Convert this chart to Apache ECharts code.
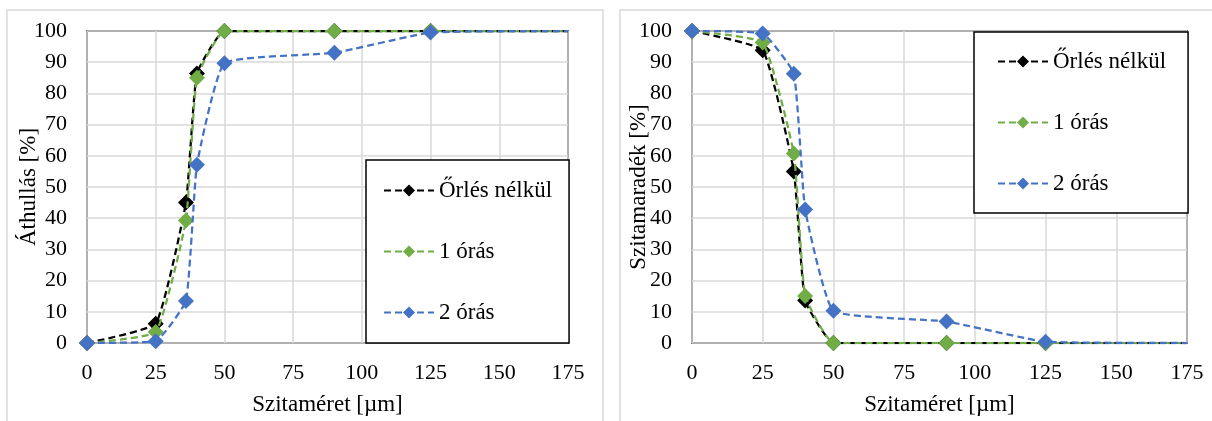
<!DOCTYPE html>
<html>
<head>
<meta charset="utf-8">
<title>Szitaanalízis</title>
<script src="https://cdn.jsdelivr.net/npm/echarts@6/dist/echarts.min.js"></script>
<style>
  html, body { margin: 0; padding: 0; background: #fff; }
  #main { width: 1212px; height: 421px; }
</style>
</head>
<body>
<div id="main"></div>
<script>
// szitaméret [µm]
var sizes = [0, 25, 36, 40, 50, 90, 125, 175];
var names = ['Őrlés nélkül', '1 órás', '2 órás'];
var colors = ['#000000', '#70AD47', '#4472C4'];

// áthullás [%]
var passNone = [0, 6.2, 45, 86.4, 100, 100, 100, 100];
var pass1h = [0, 3.5, 39.3, 85, 100, 100, 100, 100];
var pass2h = [0, 0.6, 13.5, 57.1, 89.7, 93, 99.5, 100];

// szitamaradék [%]
var resNone = [100, 93.8, 55, 13.6, 0, 0, 0, 0];
var res1h = [100, 96.3, 60.7, 15.1, 0, 0, 0, 0];
var res2h = [100, 99.2, 86.3, 42.8, 10.3, 6.9, 0.4, 0];

var xTicks = ['0', '25', '50', '75', '100', '125', '150', '175'];
var yTicks = ['0', '10', '20', '30', '40', '50', '60', '70', '80', '90', '100'];

var font = 'Liberation Serif, Times New Roman, serif';

function toPoints(ys){
	var pts = [];
	for (var i = 0; i < sizes.length; i++){
		var p = { value: [sizes[i], ys[i]] };
		// az utolsó pont csak a vonal folytatása, nincs jelölő
		if (i == sizes.length - 1) p.symbol = 'none';
		pts.push(p);
	}
	return pts;
}

function makeSeries(idx, gridIdx, ys){
	return {
		name: names[idx],
		type: 'line',
		xAxisIndex: gridIdx,
		yAxisIndex: gridIdx,
		data: toPoints(ys),
		smooth: 0.12,
		symbol: 'diamond',
		symbolSize: 16,
		z: 3 + idx,
		itemStyle: { color: colors[idx] },
		lineStyle: { color: colors[idx], width: 2.25, type: [7, 4] },
		emphasis: { disabled: true },
		animation: false
	};
}

function xAxis(gridIdx){
	return {
		gridIndex: gridIdx,
		type: 'value',
		min: 0, max: 175, interval: 25,
		name: 'Szitaméret [µm]',
		nameLocation: 'middle',
		nameGap: 50,
		nameMoveOverlap: false,
		nameTextStyle: { fontFamily: font, fontSize: 23, color: '#000' },
		axisLine: { show: false },
		axisTick: { show: false },
		axisLabel: {
			margin: 19, fontFamily: font, fontSize: 22, color: '#000',
			formatter: function(v){ return xTicks[Math.round(v / 25)]; }
		},
		splitLine: { show: true, lineStyle: { color: '#d9d9d9', width: 1.5 } }
	};
}

function yAxis(gridIdx, title, gap){
	return {
		gridIndex: gridIdx,
		type: 'value',
		min: 0, max: 100, interval: 10,
		name: title,
		nameLocation: 'middle',
		nameGap: gap,
		nameMoveOverlap: false,
		nameTextStyle: { fontFamily: font, fontSize: 23, color: '#000' },
		axisLine: { show: false },
		axisTick: { show: false },
		axisLabel: {
			margin: 20, fontFamily: font, fontSize: 22, color: '#000',
			formatter: function(v){ return yTicks[Math.round(v / 10)]; }
		},
		splitLine: { show: true, lineStyle: { color: '#d9d9d9', width: 1.5 } }
	};
}

function legend(left, top, padding){
	return {
		data: names,
		orient: 'vertical',
		left: left,
		top: top,
		padding: padding,
		itemGap: 38,
		itemWidth: 50,
		itemHeight: 15,
		backgroundColor: '#fff',
		borderColor: '#000',
		borderWidth: 1.5,
		borderRadius: 0,
		selectedMode: false,
		z: 10,
		textStyle: { fontFamily: font, fontSize: 23, color: '#000' }
	};
}

var option = {
	backgroundColor: '#fff',
	animation: false,
	graphic: [
		{ type: 'rect', shape: { x: 7, y: 10, width: 596, height: 430 },
		  style: { fill: 'none', stroke: '#d9d9d9', lineWidth: 1.5 }, silent: true },
		{ type: 'rect', shape: { x: 620, y: 10, width: 620, height: 430 },
		  style: { fill: 'none', stroke: '#d9d9d9', lineWidth: 1.5 }, silent: true }
	],
	grid: [
		{ left: 87, top: 31, width: 481, height: 312, show: true, borderColor: '#000', borderWidth: 1.5 },
		{ left: 692, top: 31, width: 495, height: 312, show: true, borderColor: '#000', borderWidth: 1.5 }
	],
	xAxis: [xAxis(0), xAxis(1)],
	yAxis: [yAxis(0, 'Áthullás [%]', 47), yAxis(1, 'Szitamaradék [%]', 42)],
	legend: [
		legend(366, 160, [19, 17, 19, 17]),
		legend(974, 32, [18, 22, 18, 23])
	],
	series: [
		makeSeries(0, 0, passNone),
		makeSeries(1, 0, pass1h),
		makeSeries(2, 0, pass2h),
		makeSeries(0, 1, resNone),
		makeSeries(1, 1, res1h),
		makeSeries(2, 1, res2h)
	]
};

var myChart = echarts.init(document.getElementById('main'));
myChart.setOption(option);
</script>
</body>
</html>
